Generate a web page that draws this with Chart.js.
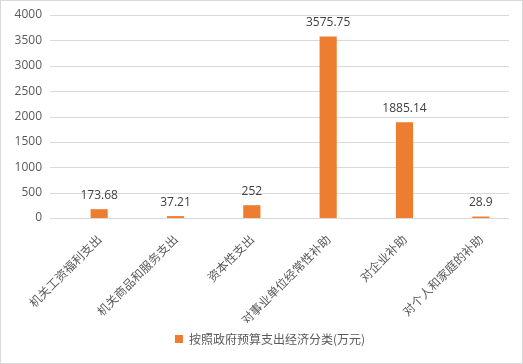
<!DOCTYPE html>
<html><head><meta charset="utf-8">
<script src="https://cdn.jsdelivr.net/npm/chart.js@4/dist/chart.umd.min.js"></script>
<style>
html,body{margin:0;padding:0;background:#fff;}
#wrap{position:absolute;left:0;top:0;width:521px;height:362px;border:1px solid #D9D9D9;}
canvas{display:block;}
</style></head><body>
<div id="wrap"><canvas id="c" width="521" height="362"></canvas></div>
<script>
const categories = ["机关工资福利支出","机关商品和服务支出","资本性支出","对事业单位经常性补助","对企业补助","对个人和家庭的补助"];
const values = [173.68, 37.21, 252, 3575.75, 1885.14, 28.9];
const valueLabels = ["173.68","37.21","252","3575.75","1885.14","28.9"];
const seriesName = "按照政府预算支出经济分类(万元)";
const yTicks = [0,500,1000,1500,2000,2500,3000,3500,4000];

const FONT = '"Noto Sans CJK SC", "DejaVu Sans", sans-serif';
const NUMFONT = '"Open Sans", "Noto Sans CJK SC", sans-serif';
const gridPlugin = {
  id:'hgrid',
  afterLayout(chart){
    if (chart.legend){ chart.legend.left += 10; chart.legend.right += 10; }
  },
  beforeDatasetsDraw(chart){
    const ctx = chart.ctx, y = chart.scales.y, a = chart.chartArea;
    ctx.save();
    ctx.strokeStyle = '#D9D9D9';
    ctx.lineWidth = 1;
    y.ticks.forEach(t=>{
      const py = Math.round(y.getPixelForValue(t.value)) + 0.5;
      ctx.beginPath();
      ctx.moveTo(a.left - 11, py);
      ctx.lineTo(a.right - 10, py);
      ctx.stroke();
    });
    ctx.restore();
  }
};
const labelPlugin = {
  id:'vlabels',
  afterDatasetsDraw(chart){
    const ctx = chart.ctx;
    const meta = chart.getDatasetMeta(0);
    ctx.save();
    ctx.font = '12px ' + NUMFONT;
    ctx.fillStyle = '#404040';
    ctx.textAlign = 'center';
    ctx.textBaseline = 'middle';
    meta.data.forEach((bar,i)=>{
      ctx.fillText(valueLabels[i], bar.x, bar.y - 14);
    });
    ctx.restore();
  }
};
new Chart(document.getElementById('c'),{
  type:'bar',
  data:{labels:categories,datasets:[{label:seriesName,data:values,backgroundColor:'#ED7D31',borderWidth:0,barPercentage:0.225,categoryPercentage:1}]},
  options:{
    responsive:false,animation:false,
    layout:{padding:{left:0,right:3,top:14,bottom:8}},
    plugins:{
      legend:{position:'bottom',labels:{boxWidth:8,boxHeight:8,color:'#595959',font:{family:FONT,size:12},padding:10}},
      tooltip:{enabled:false}
    },
    scales:{
      x:{grid:{display:false,drawTicks:false},border:{display:false},
        afterFit(s){s.height=105;},
        ticks:{color:'#595959',font:{family:FONT,size:12},maxRotation:45,minRotation:45,autoSkip:false,padding:14}},
      y:{min:0,max:4000,afterBuildTicks(s){s.ticks=yTicks.map(v=>({value:v}));},
        afterFit(s){s.width=60;},
        grid:{display:false,drawTicks:true,tickLength:15},border:{display:false},
        ticks:{color:'#595959',font:{family:NUMFONT,size:12},padding:4,callback:v=>String(v)}}
    }
  },
  plugins:[gridPlugin,labelPlugin]
});
</script></body></html>
